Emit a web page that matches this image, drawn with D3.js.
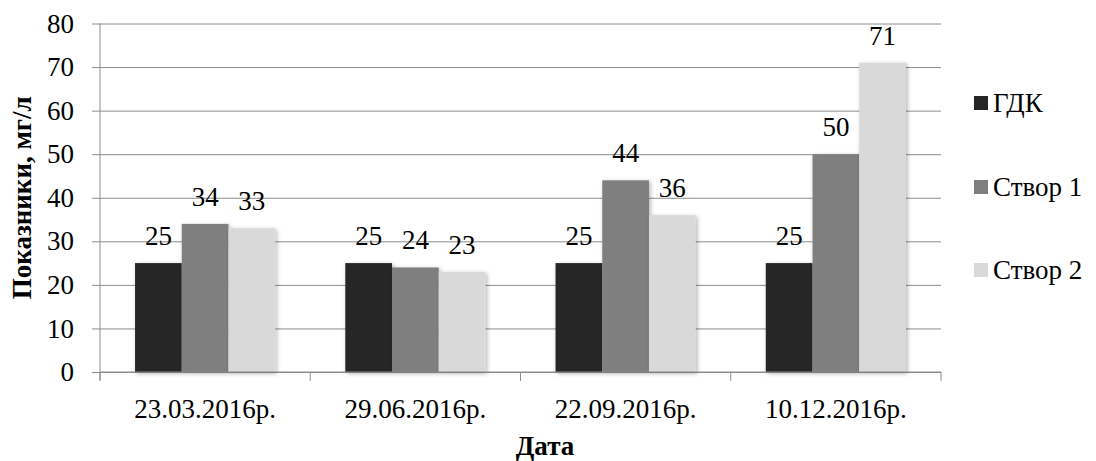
<!DOCTYPE html>
<html>
<head>
<meta charset="utf-8">
<script src="https://cdn.jsdelivr.net/npm/d3@7"></script>
<style>
  html, body { margin: 0; padding: 0; background: #fff; }
  svg { display: block; }
</style>
</head>
<body>
<svg id="chart" width="1096" height="461"></svg>
<script>
// Sampling dates and measured concentrations (mg/l)
const categories = ["23.03.2016р.", "29.06.2016р.", "22.09.2016р.", "10.12.2016р."];
const seriesNames = ["ГДК", "Створ 1", "Створ 2"];
const gdk    = [25, 25, 25, 25];
const stvor1 = [34, 24, 44, 50];
const stvor2 = [33, 23, 36, 71];
const yTicks = [0, 10, 20, 30, 40, 50, 60, 70, 80];
const colors = ["#262626", "#7f7f7f", "#d9d9d9"];

const seriesValues = [gdk, stvor1, stvor2];
const FONT = "Liberation Serif";
const FS = 27;

const svg = d3.select("#chart");
const margin = { left: 100, right: 155, top: 23.5, bottom: 89 };
const W = 1096, H = 461;
const x0 = margin.left, x1 = W - margin.right;
const yTop = margin.top, yBottom = H - margin.bottom;

const defs = svg.append("defs");
const f = defs.append("filter").attr("id", "shadow")
  .attr("x", "-20%").attr("y", "-10%").attr("width", "140%").attr("height", "120%");
f.append("feDropShadow").attr("dx", 1.5).attr("dy", 1.5).attr("stdDeviation", 2.2)
  .attr("flood-color", "#000").attr("flood-opacity", 0.3);

const x = d3.scaleBand().domain(categories).range([x0, x1]);
// 150% gap between groups: 3 bars plus 1.5 bar-widths of spacing per category
const xs = d3.scaleBand().domain(seriesNames).range([0, x.bandwidth()])
  .paddingInner(0).paddingOuter(0.75);
const y = d3.scaleLinear().domain([0, 80]).range([yBottom, yTop]);

// Horizontal gridlines with outer tick marks
const yAxis = d3.axisLeft(y).tickValues(yTicks).tickSize(-(x1 - x0)).tickPadding(26);
const gy = svg.append("g").attr("transform", `translate(${x0},0)`).call(yAxis);
gy.attr("font-family", FONT).attr("font-size", FS);
gy.select(".domain").remove();
gy.selectAll(".tick line").attr("stroke", "#8c8c8c").attr("stroke-width", 1)
  .attr("x1", -8);
gy.selectAll(".tick text").attr("font-family", FONT).attr("font-size", FS).attr("fill", "#000");

// Vertical axis line
svg.append("line").attr("x1", x0).attr("x2", x0).attr("y1", yTop).attr("y2", yBottom + 8)
  .attr("stroke", "#8c8c8c");

// Bars
const groups = svg.append("g").selectAll("g").data(categories).join("g")
  .attr("transform", d => `translate(${x(d)},0)`);
groups.each(function(cat, ci) {
  const g = d3.select(this);
  seriesNames.forEach((s, si) => {
    const v = seriesValues[si][ci];
    g.append("rect")
      .attr("x", xs(s)).attr("width", xs.bandwidth())
      .attr("y", y(v)).attr("height", y(0) - y(v))
      .attr("fill", colors[si]).attr("filter", "url(#shadow)");
  });
});

// Category axis
const xAxis = d3.axisBottom(x).tickSize(0).tickPadding(27);
const gx = svg.append("g").attr("transform", `translate(0,${yBottom})`).call(xAxis);
gx.attr("font-family", FONT).attr("font-size", FS);
gx.select(".domain").remove();
gx.selectAll(".tick text").attr("font-family", FONT).attr("font-size", FS).attr("fill", "#000");
svg.append("line").attr("x1", x0).attr("x2", x1).attr("y1", yBottom).attr("y2", yBottom)
  .attr("stroke", "#8c8c8c");
categories.concat([null]).forEach(c => {
  const xp = c === null ? x1 : x(c);
  svg.append("line").attr("x1", xp).attr("x2", xp).attr("y1", yBottom).attr("y2", yBottom + 9)
    .attr("stroke", "#8c8c8c");
});

// Value labels
groups.each(function(cat, ci) {
  const g = d3.select(this);
  seriesNames.forEach((s, si) => {
    const v = seriesValues[si][ci];
    g.append("text")
      .attr("x", xs(s) + xs.bandwidth() / 2)
      .attr("y", y(v) - 18)
      .attr("text-anchor", "middle")
      .attr("font-family", FONT)
      .attr("font-size", FS)
      .text(v);
  });
});

// Axis titles
svg.append("text")
  .attr("transform", `translate(31,${(yTop + yBottom) / 2}) rotate(-90)`)
  .attr("text-anchor", "middle").attr("font-family", FONT).attr("font-size", FS)
  .attr("font-weight", "bold")
  .text("Показники, мг/л");
svg.append("text")
  .attr("x", 545).attr("y", 455)
  .attr("text-anchor", "middle").attr("font-family", FONT).attr("font-size", FS)
  .attr("font-weight", "bold")
  .text("Дата");

// Legend
const legend = svg.append("g").attr("transform", "translate(974,0)");
const legendY = [103, 187, 270];
seriesNames.forEach((s, i) => {
  legend.append("rect").attr("x", 0).attr("y", legendY[i] - 7).attr("width", 14).attr("height", 14)
    .attr("fill", colors[i]);
  legend.append("text").attr("x", 19).attr("y", legendY[i] + 9)
    .attr("font-family", FONT).attr("font-size", FS).text(s);
});
</script>
</body>
</html>
